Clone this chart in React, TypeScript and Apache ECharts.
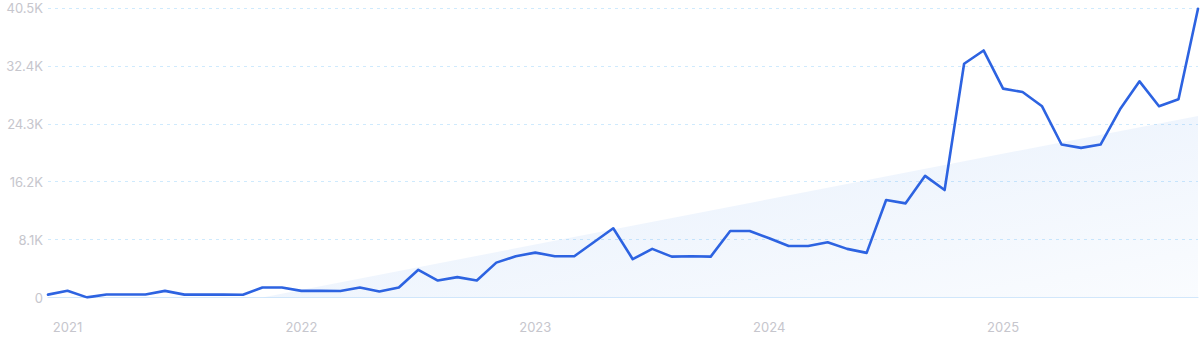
import React, { useEffect, useRef } from "react";
import * as echarts from "echarts";

const months: string[] = [
  "2020-12",
  "2021-01", "2021-02", "2021-03", "2021-04", "2021-05", "2021-06",
  "2021-07", "2021-08", "2021-09", "2021-10", "2021-11", "2021-12",
  "2022-01", "2022-02", "2022-03", "2022-04", "2022-05", "2022-06",
  "2022-07", "2022-08", "2022-09", "2022-10", "2022-11", "2022-12",
  "2023-01", "2023-02", "2023-03", "2023-04", "2023-05", "2023-06",
  "2023-07", "2023-08", "2023-09", "2023-10", "2023-11", "2023-12",
  "2024-01", "2024-02", "2024-03", "2024-04", "2024-05", "2024-06",
  "2024-07", "2024-08", "2024-09", "2024-10", "2024-11", "2024-12",
  "2025-01", "2025-02", "2025-03", "2025-04", "2025-05", "2025-06",
  "2025-07", "2025-08", "2025-09", "2025-10", "2025-11",
];

const volume: number[] = [
  400,
  950, 20, 420, 420, 420, 930,
  400, 400, 400, 380, 1400, 1400,
  930, 930, 900, 1400, 850, 1400,
  3870, 2370, 2850, 2370, 4880, 5780,
  6280, 5780, 5780, 7730, 9680, 5360,
  6800, 5720, 5780, 5720, 9300, 9300,
  8290, 7210, 7210, 7730, 6800, 6240,
  13630, 13170, 17020, 15030, 32700, 34560,
  29220, 28750, 26750, 21400, 20930, 21400,
  26330, 30240, 26750, 27730, 40400,
];

// trend wedge end points
const trendPoints: [string, number][] = [
  ["2021-11", 0],
  ["2025-11", 25400],
];

const yTicks = { min: 0, max: 40500, interval: 8100 };

export default function App() {
  const ref = useRef<HTMLDivElement>(null);

  useEffect(() => {
    if (!ref.current) return;
    const chart = echarts.init(ref.current, undefined, { renderer: "svg" });
    chart.setOption({
      animation: false,
      backgroundColor: "#ffffff",
      grid: { left: 48, right: 2, top: 8, bottom: 45.5, containLabel: false },
      xAxis: {
        type: "category",
        data: months,
        boundaryGap: false,
        axisLine: { show: true, lineStyle: { color: "#d3e8fb", width: 1.2 } },
        axisTick: { show: false },
        splitLine: { show: false },
        axisLabel: {
          interval: (_i: number, v: string) => v.endsWith("-01"),
          formatter: (v: string) => v.slice(0, 4),
          color: "#c6c6cd",
          fontFamily: "Inter",
          fontSize: 13,
          margin: 23,
        },
      },
      yAxis: {
        type: "value",
        min: yTicks.min,
        max: yTicks.max,
        interval: yTicks.interval,
        axisLine: { show: false },
        axisTick: { show: false },
        splitLine: {
          show: true,
          lineStyle: { color: "#cfeafd", type: [3, 4], width: 1 },
        },
        axisLabel: {
          formatter: (v: number) => (v === 0 ? "0" : (v / 1000).toFixed(1) + "K"),
          color: "#c6c6cd",
          fontFamily: "Inter",
          fontSize: 13,
          margin: 5,
        },
      },
      series: [
        {
          type: "line",
          data: trendPoints,
          symbol: "none",
          silent: true,
          lineStyle: { width: 0, color: "transparent" },
          areaStyle: {
            opacity: 1,
            color: new echarts.graphic.LinearGradient(0, 0, 1, 1, [
              { offset: 0, color: "rgba(40,120,230,0.12)" },
              { offset: 1, color: "rgba(40,120,230,0.025)" },
            ]),
          },
          z: 1,
        },
        {
          type: "line",
          data: volume,
          symbol: "none",
          lineStyle: { color: "#2d63e1", width: 2.6, join: "round", cap: "round" },
          z: 3,
        },
      ],
    });
    return () => chart.dispose();
  }, []);

  return (
    <div
      ref={ref}
      style={{ position: "fixed", left: 0, top: 0, width: 1200, height: 343 }}
    />
  );
}
